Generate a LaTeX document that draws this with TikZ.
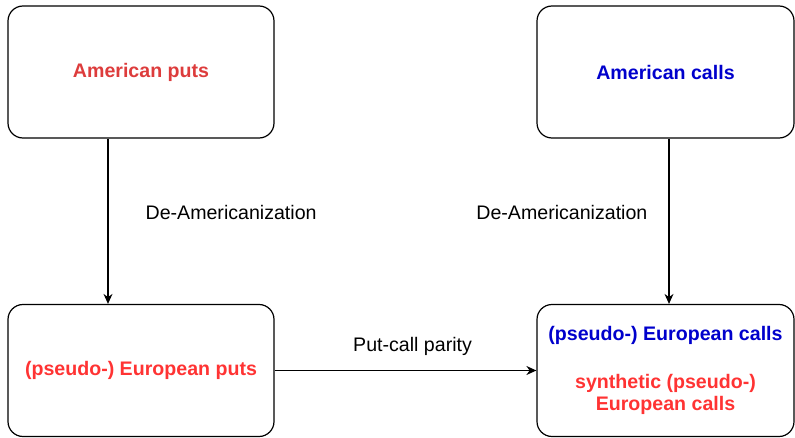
\documentclass[tikz,border=0pt]{standalone}
\usepackage{fontspec}
\setmainfont{Liberation Sans}
\usetikzlibrary{arrows.meta}
\definecolor{amred}{RGB}{221,60,60}
\definecolor{eured}{RGB}{255,51,51}
\definecolor{eublue}{RGB}{0,0,204}

\begin{document}
\begin{tikzpicture}[x=1pt, y=1pt,
    optbox/.style={draw, line width=1.2pt, rounded corners=15pt, minimum width=266pt,
      minimum height=132pt, inner sep=0pt, align=center,
      font=\bfseries\fontsize{19.6}{22}\selectfont},
    flow/.style={line width=1.2pt, -{Stealth[length=10pt, width=9pt]}},
    lbl/.style={inner sep=0pt, font=\fontsize{19.6}{22}\selectfont}]
    \useasboundingbox (0, 0) rectangle (795, 437);

    % boxes
    \node[optbox, text=amred] (putsA) at (141, 365) {American puts};
    \node[optbox, text=eublue, minimum width=257pt] (callsA) at (665.5, 365) {American calls};
    \node[optbox, text=eured] (putsE) at (141, 66.5) {(pseudo-) European puts};
    \node[optbox, text=eured, minimum width=257pt] (callsE) at (665.5, 66.5)
      {\textcolor{eublue}{(pseudo-) European calls}\\[26pt] synthetic (pseudo-)\\ European calls};

    % arrows
    \draw[flow] ([xshift=-33pt]putsA.south) -- node[lbl, pos=0.45, right=37pt]{De-Americanization} ([xshift=-33pt]putsE.north);
    \draw[flow] ([xshift=3.5pt]callsA.south) -- node[lbl, pos=0.45, left=21pt]{De-Americanization} ([xshift=3.5pt]callsE.north);
    \draw[flow] (putsE) -- node[lbl, pos=0.527, above=14pt]{Put-call parity} (callsE);
\end{tikzpicture}
\end{document}
